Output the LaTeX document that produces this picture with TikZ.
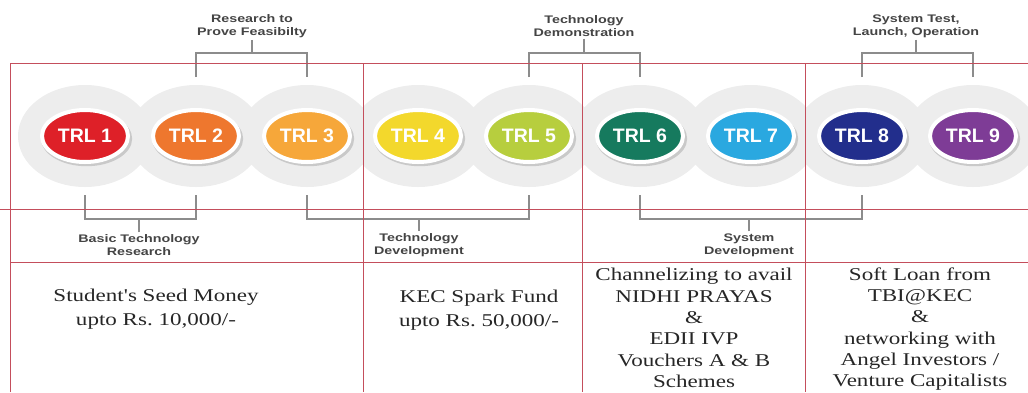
\documentclass[tikz,border=0pt]{standalone}
\usepackage{fontspec}
\usepackage{tikz}
\usetikzlibrary{shapes,calc,shadows}
\newfontfamily\trlfont{Liberation Sans}
\newfontfamily\stagefont[FakeStretch=1.3]{Liberation Sans}
\newfontfamily\fundfont[FakeStretch=1.28]{Liberation Serif}
\definecolor{trlA}{RGB}{222,32,40}
\definecolor{trlB}{RGB}{238,119,46}
\definecolor{trlC}{RGB}{246,167,58}
\definecolor{trlD}{RGB}{243,216,44}
\definecolor{trlE}{RGB}{183,206,62}
\definecolor{trlF}{RGB}{22,122,94}
\definecolor{trlG}{RGB}{42,168,224}
\definecolor{trlH}{RGB}{34,46,140}
\definecolor{trlI}{RGB}{126,60,150}
\definecolor{gridred}{RGB}{196,78,92}
\definecolor{stagegray}{RGB}{68,68,68}
\definecolor{brkgray}{RGB}{140,140,140}
\tikzset{
  trl/.style={ellipse, draw=white, line width=4pt, minimum width=86pt, minimum height=52pt,
    inner sep=0pt, text=white, font=\trlfont\bfseries\fontsize{19.5}{20}\selectfont,
    drop shadow={shadow xshift=1.5pt, shadow yshift=-2.5pt, shadow scale=1.06, fill=black!35, opacity=.5}},
  halo/.style={fill=black!7},
  stage/.style={align=center, inner sep=2pt, text=stagegray, font=\stagefont\bfseries\fontsize{11}{13}\selectfont},
  fund/.style={align=center, text=black!85, font=\fundfont\fontsize{18}{21.3}\selectfont},
  brk/.style={draw=brkgray, line width=1.8pt},
  grid/.style={draw=gridred, line width=0.9pt},
}
\begin{document}
\begin{tikzpicture}[x=1pt,y=-1pt]
        \useasboundingbox (0,0) rectangle (1028,392);
        \coordinate (c1) at (85,136);
        \coordinate (c2) at (196,136);
        \coordinate (c3) at (307,136);
        \coordinate (c4) at (418,136);
        \coordinate (c5) at (529,136);
        \coordinate (c6) at (640,136);
        \coordinate (c7) at (751,136);
        \coordinate (c8) at (862,136);
        \coordinate (c9) at (973,136);
        %Halo
        \fill[halo] (c1) ellipse (67pt and 51pt);
        \fill[halo] (c2) ellipse (67pt and 51pt);
        \fill[halo] (c3) ellipse (67pt and 51pt);
        \fill[halo] (c4) ellipse (67pt and 51pt);
        \fill[halo] (c5) ellipse (67pt and 51pt);
        \fill[halo] (c6) ellipse (67pt and 51pt);
        \fill[halo] (c7) ellipse (67pt and 51pt);
        \fill[halo] (c8) ellipse (67pt and 51pt);
        \fill[halo] (c9) ellipse (67pt and 51pt);
        %Levels
        \node[trl,fill=trlA] (t1) at (c1) {TRL 1};
        \node[trl,fill=trlB] (t2) at (c2) {TRL 2};
        \node[trl,fill=trlC] (t3) at (c3) {TRL 3};
        \node[trl,fill=trlD] (t4) at (c4) {TRL 4};
        \node[trl,fill=trlE] (t5) at (c5) {TRL 5};
        \node[trl,fill=trlF] (t6) at (c6) {TRL 6};
        \node[trl,fill=trlG] (t7) at (c7) {TRL 7};
        \node[trl,fill=trlH] (t8) at (c8) {TRL 8};
        \node[trl,fill=trlI] (t9) at (c9) {TRL 9};
        %Stages above
        \node[stage] (feas) at (252,26) {Research to\\Prove Feasibilty};
        \draw[brk] (t2 |- 0,77) -- (t2 |- 0,53) -| (t3 |- 0,77);
        \draw[brk] (feas.south) -- (feas.south |- 0,53);
        \node[stage] (demo) at (584,26) {Technology\\Demonstration};
        \draw[brk] (t5 |- 0,77) -- (t5 |- 0,53) -| (t6 |- 0,77);
        \draw[brk] (demo.south) -- (demo.south |- 0,53);
        \node[stage] (oper) at (916,26) {System Test,\\Launch, Operation};
        \draw[brk] (t8 |- 0,77) -- (t8 |- 0,53) -| (t9 |- 0,77);
        \draw[brk] (oper.south) -- (oper.south |- 0,53);
        %Stages below
        \node[stage] (basic) at (139,245) {Basic Technology\\Research};
        \draw[brk] (t1 |- 0,195) -- (t1 |- 0,219) -| (t2 |- 0,195);
        \draw[brk] (basic.north) -- (basic.north |- 0,219);
        \node[stage] (tdev) at (419,245) {Technology\\Development};
        \draw[brk] (t3 |- 0,195) -- (t3 |- 0,219) -| (t5 |- 0,195);
        \draw[brk] (tdev.north) -- (tdev.north |- 0,219);
        \node[stage] (sdev) at (749,245) {System\\Development};
        \draw[brk] (t6 |- 0,195) -- (t6 |- 0,219) -| (t8 |- 0,195);
        \draw[brk] (sdev.north) -- (sdev.north |- 0,219);
        %Grid
        \draw[grid] (10,392) -- (10,63) -- (1028,63);
        \draw[grid] (0,209) -- (1028,209);
        \draw[grid] (10,262) -- (1028,262);
        \draw[grid] (363,63) -- (363,392);
        \draw[grid] (582,63) -- (582,392);
        \draw[grid] (805,63) -- (805,392);
        %Funds
        \node[fund] (seed) at (156,309) {Student's Seed Money\\[3pt]upto Rs.\ 10,000/-};
        \node[fund] (spark) at (479,310) {KEC Spark Fund\\[3pt]upto Rs.\ 50,000/-};
        \node[fund] (nidhi) at (694,328) {Channelizing to avail\\NIDHI PRAYAS\\\&\\EDII IVP\\Vouchers A \& B\\Schemes};
        \node[fund] (loan) at (920,329) {Soft Loan from\\TBI@KEC\\\&\\networking with\\Angel Investors /\\Venture Capitalists};
\end{tikzpicture}
\end{document}
